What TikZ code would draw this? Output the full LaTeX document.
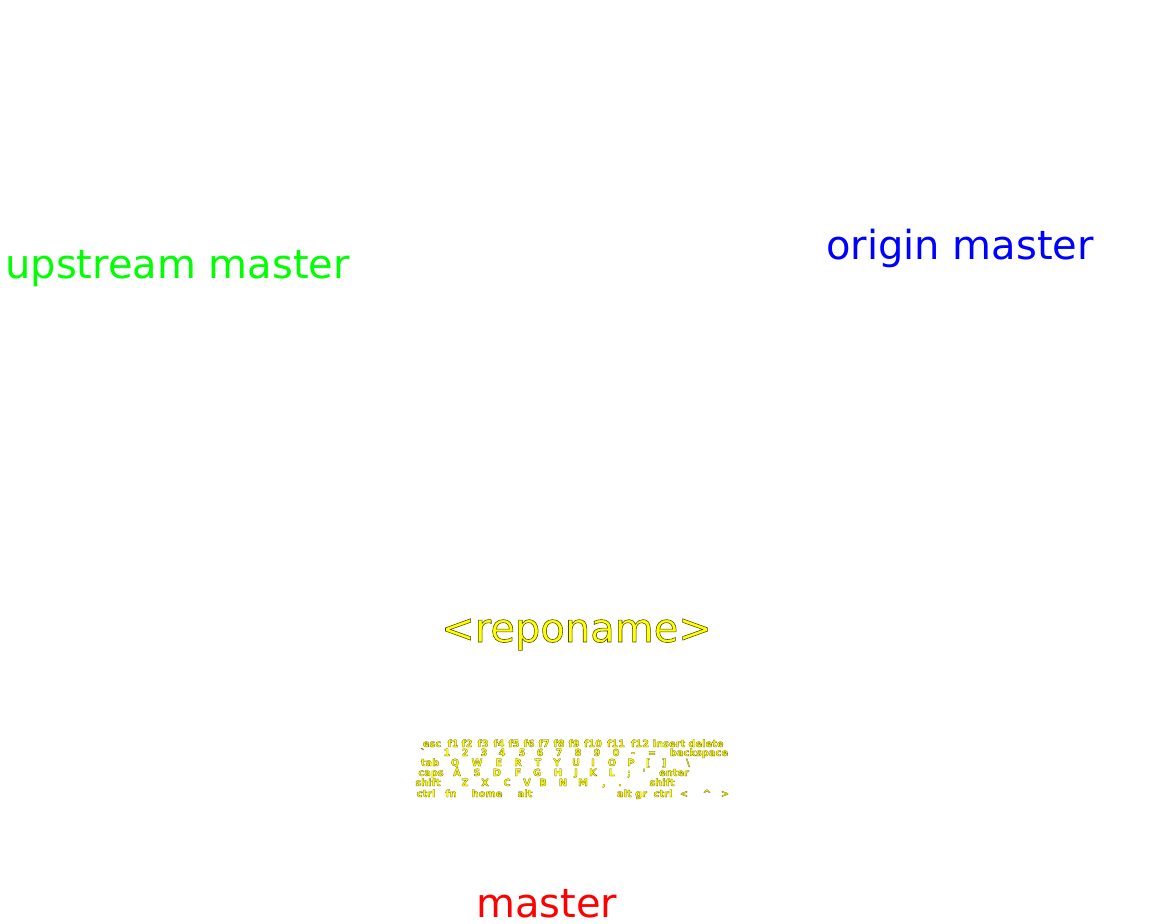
\documentclass[tikz,border=0pt]{standalone}
\usepackage{fontspec}
\setmainfont{DejaVu Sans}
\newfontfamily\rimfont[RawFeature={embolden=1.4}]{DejaVu Sans}
\newfontfamily\keyfont[RawFeature={embolden=2}]{DejaVu Sans Bold}
\usepackage{xcolor}
\usepackage{tikz}
\definecolor{up}{HTML}{00FF00}
\definecolor{og}{HTML}{0000FF}
\definecolor{lo}{HTML}{FF0000}
\definecolor{rp}{HTML}{FFFF00}
% dark edge round the yellow letters
\newcommand{\rim}{\special{pdf:literal 0.3 0.3 0 RG}}
\tikzset{
  branch/.style={anchor=base west, inner sep=0pt, font=\fontsize{30}{36}\selectfont},
  key/.style={anchor=base, inner sep=0pt, text=rp, font=\keyfont\fontsize{7.4}{9}\selectfont},
}
\newcommand{\keyrow}[2]{%
  \foreach \x/\lbl in {#2} {%
    \node[key] (k-\x-#1) at (\x,#1) {\rim\lbl};
  }}
\begin{document}
\begin{tikzpicture}[x=0.75pt,y=-0.75pt]
  \useasboundingbox (0,0) rectangle (1168,924);
  \node[branch, text=up] (upstream) at (5,278) {upstream master};
  \node[branch, text=og] (origin) at (826,259) {origin master};
  \node[branch, text=rp, font=\rimfont\fontsize{30}{36}\selectfont] (repo) at (441,642) {\rim<reponame>};
  \node[branch, text=lo] (local) at (476,917) {master};
  % keyboard
  \keyrow{747}{432/esc, 453/f1, 467/f2, 483/f3, 499/f4, 514/f5, 529/f6, 544/f7, 559/f8, 574/f9, 593/f10, 616/f11, 640/f12, 669/insert, 706/delete}
  \keyrow{756}{423/\textasciigrave, 447/1, 465/2, 484/3, 502/4, 522/5, 540/6, 559/7, 578/8, 597/9, 616/0, 633/-, 652/=, 699/backspace}
  \keyrow{766}{430/tab, 455/Q, 477/W, 499/E, 518/R, 538/T, 557/Y, 576/U, 593/I, 612/O, 631/P, 648/[, 664/], 688/\textbackslash}
  \keyrow{776}{431/caps, 457/A, 477/S, 497/D, 518/F, 537/G, 558/H, 576/J, 593/K, 612/L, 629/;, 644/\textquotesingle, 674/enter}
  \keyrow{786}{428/shift, 465/Z, 485/X, 507/C, 527/V, 543/B, 563/N, 583/M, 604/{,}, 620/., 634//, 662/shift}
  \keyrow{797}{426/ctrl, 451/fn, 487/home, 525/alt, 632/alt gr, 663/ctrl, 684/<, 707/\textasciicircum, 725/>}
\end{tikzpicture}
\end{document}
